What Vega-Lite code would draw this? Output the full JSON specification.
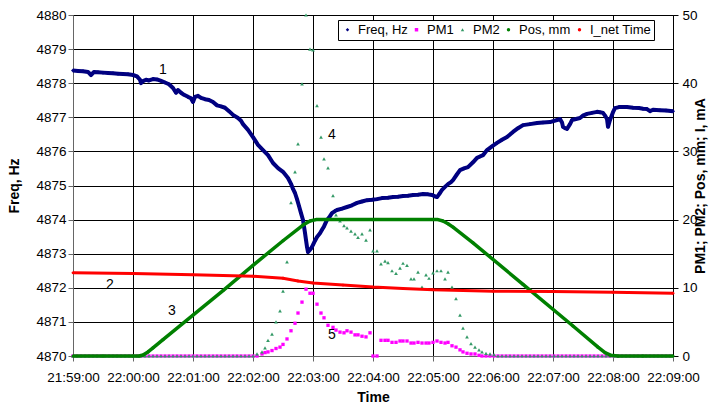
{
 "$schema": "https://vega.github.io/schema/vega-lite/v6.json",
 "width": 600,
 "height": 341,
 "autosize": {"type": "none"},
 "padding": {"left": 73, "top": 15, "right": 44, "bottom": 50},
 "background": "white",
 "config": {
  "font": "Liberation Sans",
  "view": {"stroke": "#808080", "strokeWidth": 1},
  "axis": {"labelFont": "Liberation Sans", "labelFontSize": 13.5, "labelColor": "#000", "titleFont": "Liberation Sans", "titleFontSize": 14, "titleFontWeight": "bold", "titleColor": "#000", "tickColor": "#000", "domainColor": "#000", "gridColor": "#000", "gridOpacity": 1, "gridWidth": 1, "tickSize": 5}
 },
 "datasets": {
  "freq": [
   {"s":0,"f":4878.37},{"s":5,"f":4878.36},{"s":10,"f":4878.35},{"s":15,"f":4878.33},{"s":18,"f":4878.24},{"s":21,"f":4878.33},{"s":25,"f":4878.32},{"s":30,"f":4878.31},{"s":35,"f":4878.3},{"s":40,"f":4878.29},{"s":45,"f":4878.28},{"s":50,"f":4878.27},{"s":55,"f":4878.26},{"s":60,"f":4878.24},{"s":64,"f":4878.2},{"s":67,"f":4878.1},{"s":68,"f":4878.0},{"s":70,"f":4878.06},{"s":73,"f":4878.1},{"s":76,"f":4878.08},{"s":80,"f":4878.12},{"s":84,"f":4878.11},{"s":88,"f":4878.07},{"s":92,"f":4878.02},{"s":96,"f":4877.97},{"s":100,"f":4877.86},{"s":103,"f":4877.72},{"s":105,"f":4877.8},{"s":108,"f":4877.72},{"s":111,"f":4877.66},{"s":115,"f":4877.6},{"s":118,"f":4877.56},{"s":120,"f":4877.45},{"s":122,"f":4877.6},{"s":125,"f":4877.63},{"s":128,"f":4877.57},{"s":132,"f":4877.53},{"s":136,"f":4877.51},{"s":140,"f":4877.45},{"s":144,"f":4877.35},{"s":148,"f":4877.32},{"s":152,"f":4877.28},{"s":156,"f":4877.18},{"s":160,"f":4877.07},{"s":165,"f":4876.98},{"s":168,"f":4876.9},{"s":170,"f":4876.8},{"s":175,"f":4876.63},{"s":180,"f":4876.42},{"s":185,"f":4876.19},{"s":190,"f":4876.04},{"s":195,"f":4875.89},{"s":200,"f":4875.66},{"s":205,"f":4875.51},{"s":210,"f":4875.4},{"s":215,"f":4875.22},{"s":218,"f":4875.05},{"s":220,"f":4874.9},{"s":222,"f":4874.78},{"s":224,"f":4874.6},{"s":226,"f":4874.4},{"s":228,"f":4874.19},{"s":230,"f":4873.99},{"s":232,"f":4873.61},{"s":233,"f":4873.4},{"s":234,"f":4873.2},{"s":235,"f":4873.05},{"s":236,"f":4873.08},{"s":238,"f":4873.15},{"s":240,"f":4873.26},{"s":242,"f":4873.38},{"s":244,"f":4873.49},{"s":247,"f":4873.6},{"s":249,"f":4873.7},{"s":251,"f":4873.8},{"s":254,"f":4873.99},{"s":257,"f":4874.1},{"s":259,"f":4874.19},{"s":262,"f":4874.25},{"s":264,"f":4874.28},{"s":269,"f":4874.32},{"s":274,"f":4874.37},{"s":279,"f":4874.42},{"s":284,"f":4874.49},{"s":289,"f":4874.53},{"s":294,"f":4874.57},{"s":299,"f":4874.58},{"s":304,"f":4874.6},{"s":309,"f":4874.63},{"s":315,"f":4874.64},{"s":320,"f":4874.66},{"s":325,"f":4874.67},{"s":330,"f":4874.69},{"s":335,"f":4874.7},{"s":340,"f":4874.72},{"s":345,"f":4874.73},{"s":350,"f":4874.75},{"s":355,"f":4874.74},{"s":359,"f":4874.72},{"s":362,"f":4874.68},{"s":364,"f":4874.66},{"s":367,"f":4874.78},{"s":369,"f":4874.87},{"s":372,"f":4874.96},{"s":375,"f":4875.04},{"s":378,"f":4875.1},{"s":380,"f":4875.16},{"s":384,"f":4875.33},{"s":387,"f":4875.45},{"s":391,"f":4875.5},{"s":395,"f":4875.54},{"s":400,"f":4875.68},{"s":404,"f":4875.81},{"s":407,"f":4875.85},{"s":410,"f":4875.89},{"s":414,"f":4876.04},{"s":419,"f":4876.15},{"s":424,"f":4876.25},{"s":429,"f":4876.34},{"s":434,"f":4876.42},{"s":440,"f":4876.57},{"s":445,"f":4876.68},{"s":450,"f":4876.77},{"s":457,"f":4876.8},{"s":464,"f":4876.83},{"s":470,"f":4876.85},{"s":477,"f":4876.86},{"s":484,"f":4876.92},{"s":487,"f":4876.95},{"s":489,"f":4876.85},{"s":490,"f":4876.72},{"s":492,"f":4876.68},{"s":494,"f":4876.66},{"s":497,"f":4876.8},{"s":499,"f":4876.92},{"s":503,"f":4876.95},{"s":507,"f":4876.98},{"s":510,"f":4877.05},{"s":514,"f":4877.1},{"s":519,"f":4877.13},{"s":524,"f":4877.16},{"s":527,"f":4877.15},{"s":530,"f":4877.13},{"s":532,"f":4877.05},{"s":534,"f":4876.95},{"s":535,"f":4876.72},{"s":537,"f":4876.92},{"s":540,"f":4877.15},{"s":542,"f":4877.27},{"s":546,"f":4877.3},{"s":550,"f":4877.3},{"s":554,"f":4877.3},{"s":560,"f":4877.28},{"s":566,"f":4877.27},{"s":570,"f":4877.25},{"s":574,"f":4877.24},{"s":577,"f":4877.18},{"s":580,"f":4877.22},{"s":587,"f":4877.21},{"s":593,"f":4877.2},{"s":600,"f":4877.18}
  ],
  "pm": [
   {"s":0,"p1":0,"p2":0},{"s":4,"p1":0,"p2":0},{"s":8,"p1":0,"p2":0},{"s":12,"p1":0,"p2":0},{"s":16,"p1":0,"p2":0},{"s":20,"p1":0,"p2":0},{"s":24,"p1":0,"p2":0},{"s":28,"p1":0,"p2":0},{"s":32,"p1":0,"p2":0},{"s":36,"p1":0,"p2":0},{"s":40,"p1":0,"p2":0},{"s":44,"p1":0,"p2":0},{"s":48,"p1":0,"p2":0},{"s":52,"p1":0,"p2":0},{"s":56,"p1":0,"p2":0},{"s":60,"p1":0,"p2":0},{"s":64,"p1":0,"p2":0},{"s":68,"p1":0,"p2":0},{"s":72,"p1":0,"p2":0},{"s":76,"p1":0,"p2":0},{"s":80,"p1":0,"p2":0},{"s":84,"p1":0,"p2":0},{"s":88,"p1":0,"p2":0},{"s":92,"p1":0,"p2":0},{"s":96,"p1":0,"p2":0},{"s":100,"p1":0,"p2":0},{"s":104,"p1":0,"p2":0},{"s":108,"p1":0,"p2":0},{"s":112,"p1":0,"p2":0},{"s":116,"p1":0,"p2":0},{"s":120,"p1":0,"p2":0},{"s":124,"p1":0,"p2":0},{"s":128,"p1":0,"p2":0},{"s":132,"p1":0,"p2":0},{"s":136,"p1":0,"p2":0},{"s":140,"p1":0,"p2":0},{"s":144,"p1":0,"p2":0},{"s":148,"p1":0,"p2":0},{"s":152,"p1":0,"p2":0},{"s":156,"p1":0,"p2":0},{"s":160,"p1":0,"p2":0},{"s":164,"p1":0,"p2":0},{"s":168,"p1":0,"p2":0},{"s":172,"p1":0,"p2":0},{"s":176,"p1":0,"p2":0},{"s":180,"p1":0,"p2":0},
   {"s":184,"p1":0,"p2":0.3},{"s":189,"p1":0.3,"p2":0.6},{"s":192,"p1":0.5,"p2":1.2},{"s":195,"p1":0.6,"p2":2.3},{"s":199,"p1":0.8,"p2":3.2},{"s":203,"p1":1.1,"p2":5.0},{"s":207,"p1":1.3,"p2":6.6},{"s":210,"p1":1.7,"p2":9.5},{"s":214,"p1":2.5,"p2":13.8},{"s":218,"p1":3.7,"p2":22.5},{"s":222,"p1":4.8,"p2":27.0},{"s":225,"p1":6.3,"p2":31.1},{"s":229,"p1":7.9,"p2":39.9},{"s":233,"p1":9.8,"p2":50},{"s":237,"p1":9.2,"p2":45.0},{"s":240,"p1":9.2,"p2":44.9},{"s":244,"p1":7.6,"p2":36.7},{"s":248,"p1":6.3,"p2":32.1},{"s":251,"p1":5.6,"p2":28.9},{"s":255,"p1":4.5,"p2":27.6},{"s":260,"p1":4.2,"p2":23.5},{"s":263,"p1":3.8,"p2":20.7},{"s":267,"p1":3.5,"p2":19.8},{"s":271,"p1":3.4,"p2":19.1},{"s":274,"p1":3.7,"p2":18.8},{"s":278,"p1":3.5,"p2":18.3},{"s":282,"p1":3.1,"p2":17.9},{"s":285,"p1":3.1,"p2":17.4},{"s":289,"p1":2.9,"p2":17.9},{"s":293,"p1":2.8,"p2":17.0},{"s":297,"p1":3.4,"p2":18.5},{"s":300,"p1":0,"p2":15.4},{"s":304,"p1":0,"p2":15.4},{"s":308,"p1":2.3,"p2":13.5},{"s":312,"p1":2.3,"p2":13.9},{"s":315,"p1":2.3,"p2":13.7},{"s":319,"p1":2.0,"p2":12.5},{"s":323,"p1":2.0,"p2":12.1},{"s":327,"p1":2.2,"p2":12.9},{"s":330,"p1":2.2,"p2":13.6},{"s":334,"p1":2.2,"p2":13.3},{"s":338,"p1":1.9,"p2":11.3},{"s":341,"p1":1.9,"p2":11.3},{"s":345,"p1":2.0,"p2":12.3},{"s":349,"p1":1.9,"p2":10.1},{"s":353,"p1":1.9,"p2":11.9},{"s":356,"p1":1.9,"p2":11.4},{"s":360,"p1":2.0,"p2":12.2},{"s":364,"p1":2.2,"p2":12.5},{"s":368,"p1":2.0,"p2":12.5},{"s":372,"p1":1.9,"p2":11.3},{"s":375,"p1":2.0,"p2":12.3},{"s":379,"p1":1.5,"p2":10.1},{"s":383,"p1":1.3,"p2":8.4},{"s":387,"p1":0.9,"p2":6.0},{"s":390,"p1":0.6,"p2":4.1},{"s":394,"p1":0.4,"p2":2.8},{"s":398,"p1":0.3,"p2":1.8},{"s":402,"p1":0.3,"p2":1.3},{"s":406,"p1":0.1,"p2":0.9},{"s":409,"p1":0,"p2":0.6},{"s":413,"p1":0,"p2":0.4},{"s":417,"p1":0,"p2":0.3},{"s":421,"p1":0,"p2":0.2},
   {"s":425,"p1":0,"p2":0},{"s":429,"p1":0,"p2":0},{"s":433,"p1":0,"p2":0},{"s":437,"p1":0,"p2":0},{"s":441,"p1":0,"p2":0},{"s":445,"p1":0,"p2":0},{"s":449,"p1":0,"p2":0},{"s":453,"p1":0,"p2":0},{"s":457,"p1":0,"p2":0},{"s":461,"p1":0,"p2":0},{"s":465,"p1":0,"p2":0},{"s":469,"p1":0,"p2":0},{"s":473,"p1":0,"p2":0},{"s":477,"p1":0,"p2":0},{"s":481,"p1":0,"p2":0},{"s":485,"p1":0,"p2":0},{"s":489,"p1":0,"p2":0},{"s":493,"p1":0,"p2":0},{"s":497,"p1":0,"p2":0},{"s":501,"p1":0,"p2":0},{"s":505,"p1":0,"p2":0},{"s":509,"p1":0,"p2":0},{"s":513,"p1":0,"p2":0},{"s":517,"p1":0,"p2":0},{"s":521,"p1":0,"p2":0},{"s":525,"p1":0,"p2":0},{"s":529,"p1":0,"p2":0},{"s":533,"p1":0,"p2":0},{"s":537,"p1":0,"p2":0},{"s":541,"p1":0,"p2":0},{"s":545,"p1":0,"p2":0},{"s":549,"p1":0,"p2":0},{"s":553,"p1":0,"p2":0},{"s":557,"p1":0,"p2":0},{"s":561,"p1":0,"p2":0},{"s":565,"p1":0,"p2":0},{"s":569,"p1":0,"p2":0},{"s":573,"p1":0,"p2":0},{"s":577,"p1":0,"p2":0},{"s":581,"p1":0,"p2":0},{"s":585,"p1":0,"p2":0},{"s":589,"p1":0,"p2":0},{"s":593,"p1":0,"p2":0},{"s":597,"p1":0,"p2":0}
  ],
  "pos": [
   {"s":0,"v":0},{"s":30,"v":0},{"s":60,"v":0},{"s":66,"v":0},{"s":70,"v":0.15},{"s":75,"v":0.6},{"s":80,"v":1.2},{"s":90,"v":2.4},{"s":120,"v":6.0},{"s":150,"v":9.6},{"s":180,"v":13.3},{"s":210,"v":16.9},{"s":230,"v":19.2},{"s":237,"v":19.8},{"s":243,"v":20},{"s":300,"v":20},{"s":365,"v":20},{"s":370,"v":19.8},{"s":375,"v":19.4},{"s":380,"v":18.9},{"s":400,"v":16.6},{"s":450,"v":10.5},{"s":500,"v":4.4},{"s":525,"v":1.3},{"s":532,"v":0.5},{"s":538,"v":0.1},{"s":545,"v":0},{"s":570,"v":0},{"s":600,"v":0}
  ],
  "cur": [
   {"s":0,"v":12.2},{"s":60,"v":12.1},{"s":120,"v":11.9},{"s":180,"v":11.7},{"s":210,"v":11.4},{"s":225,"v":11.0},{"s":240,"v":10.7},{"s":270,"v":10.4},{"s":300,"v":10.1},{"s":330,"v":9.9},{"s":360,"v":9.7},{"s":420,"v":9.5},{"s":480,"v":9.45},{"s":540,"v":9.35},{"s":600,"v":9.2}
  ],
  "notes": [
   {"s":90,"f":4878.39,"t":"1"},{"s":37,"f":4872.08,"t":"2"},{"s":99,"f":4871.32,"t":"3"},{"s":259,"f":4876.48,"t":"4"},{"s":259,"f":4870.62,"t":"5"}
  ]
 },
 "encoding": {
  "x": {"field": "s", "type": "quantitative", "scale": {"domain": [0, 600], "nice": false, "zero": false},
   "axis": {"values": [0,60,120,180,240,300,360,420,480,540,600], "labelExpr": "timeFormat(datetime(2000,0,1,21,59,datum.value),'%H:%M:%S')", "title": "Time", "grid": true, "labelOverlap": false, "labelFlush": false, "labelBound": false, "labelPadding": 9, "titlePadding": 7, "domainColor": "#666", "tickColor": "#666"}}
 },
 "layer": [
  {
   "encoding": {
    "y": {"field": "f", "type": "quantitative", "scale": {"domain": [4870, 4880], "nice": false, "zero": false},
     "axis": {"values": [4870,4871,4872,4873,4874,4875,4876,4877,4878,4879,4880], "format": "d", "title": "Freq, Hz", "grid": true, "titlePadding": 14, "domainColor": "#666", "tickColor": "#666"}}
   },
   "layer": [
    {"data": {"name": "freq"}, "mark": {"type": "line", "color": "#000080", "strokeWidth": 4, "strokeJoin": "round"}, "encoding": {}},
    {"data": {"name": "freq"}, "mark": {"type": "point", "filled": true, "size": 16, "opacity": 1},
     "encoding": {
      "color": {"datum": "Freq, Hz", "scale": {"domain": ["Freq, Hz","PM1","PM2","Pos, mm","I_net Time"], "range": ["#000080","#FF00FF","#339966","#008000","#FF0000"]},
       "legend": {"orient": "none", "legendX": 265, "legendY": 5, "direction": "horizontal", "columns": 5, "title": null, "strokeColor": "#000", "fillColor": "#fff", "padding": 3, "labelFont": "Liberation Sans", "labelFontSize": 13, "labelColor": "#000", "symbolSize": 12, "symbolStrokeWidth": 0, "columnPadding": 2, "labelOffset": 4}},
      "shape": {"datum": "Freq, Hz", "scale": {"domain": ["Freq, Hz","PM1","PM2","Pos, mm","I_net Time"], "range": ["diamond","square","triangle-up","circle","circle"]},
       "legend": {"orient": "none", "legendX": 265, "legendY": 5, "direction": "horizontal", "columns": 5, "title": null, "strokeColor": "#000", "fillColor": "#fff", "padding": 3, "labelFont": "Liberation Sans", "labelFontSize": 13, "labelColor": "#000", "symbolSize": 12, "symbolStrokeWidth": 0, "columnPadding": 2, "labelOffset": 4}}
     }},
    {"data": {"name": "notes"}, "mark": {"type": "text", "fontSize": 14, "font": "Liberation Sans", "color": "#000", "align": "center", "baseline": "middle"}, "encoding": {"text": {"field": "t"}}}
   ]
  },
  {
   "encoding": {
    "y": {"field": "v", "type": "quantitative", "scale": {"domain": [0, 50], "nice": false},
     "axis": {"orient": "right", "values": [0,10,20,30,40,50], "title": "PM1; PM2; Pos, mm; I, mA", "titleAngle": 270, "grid": false, "labelPadding": 4, "titlePadding": 10}}
   },
   "layer": [
    {"data": {"name": "pm"}, "transform": [{"fold": ["p1"], "as": ["k", "v"]}], "mark": {"type": "point", "filled": true, "size": 11, "opacity": 1},
     "encoding": {
      "color": {"datum": "PM1", "scale": {"domain": ["Freq, Hz","PM1","PM2","Pos, mm","I_net Time"], "range": ["#000080","#FF00FF","#339966","#008000","#FF0000"]}},
      "shape": {"datum": "PM1", "scale": {"domain": ["Freq, Hz","PM1","PM2","Pos, mm","I_net Time"], "range": ["diamond","square","triangle-up","circle","circle"]}}
     }},
    {"data": {"name": "pm"}, "transform": [{"fold": ["p2"], "as": ["k", "v"]}], "mark": {"type": "point", "filled": true, "size": 14, "opacity": 1},
     "encoding": {
      "color": {"datum": "PM2", "scale": {"domain": ["Freq, Hz","PM1","PM2","Pos, mm","I_net Time"], "range": ["#000080","#FF00FF","#339966","#008000","#FF0000"]}},
      "shape": {"datum": "PM2", "scale": {"domain": ["Freq, Hz","PM1","PM2","Pos, mm","I_net Time"], "range": ["diamond","square","triangle-up","circle","circle"]}}
     }},
    {"data": {"name": "pos"}, "mark": {"type": "line", "color": "#008000", "strokeWidth": 3.5, "strokeJoin": "round"}, "encoding": {}},
    {"data": {"name": "pos"}, "mark": {"type": "point", "filled": true, "size": 10, "opacity": 1},
     "encoding": {
      "color": {"datum": "Pos, mm", "scale": {"domain": ["Freq, Hz","PM1","PM2","Pos, mm","I_net Time"], "range": ["#000080","#FF00FF","#339966","#008000","#FF0000"]}},
      "shape": {"datum": "Pos, mm", "scale": {"domain": ["Freq, Hz","PM1","PM2","Pos, mm","I_net Time"], "range": ["diamond","square","triangle-up","circle","circle"]}}
     }},
    {"data": {"name": "cur"}, "mark": {"type": "line", "color": "#FF0000", "strokeWidth": 3, "strokeJoin": "round"}, "encoding": {}},
    {"data": {"name": "cur"}, "mark": {"type": "point", "filled": true, "size": 8, "opacity": 1},
     "encoding": {
      "color": {"datum": "I_net Time", "scale": {"domain": ["Freq, Hz","PM1","PM2","Pos, mm","I_net Time"], "range": ["#000080","#FF00FF","#339966","#008000","#FF0000"]}},
      "shape": {"datum": "I_net Time", "scale": {"domain": ["Freq, Hz","PM1","PM2","Pos, mm","I_net Time"], "range": ["diamond","square","triangle-up","circle","circle"]}}
     }}
   ]
  }
 ],
 "resolve": {"scale": {"y": "independent"}}
}
